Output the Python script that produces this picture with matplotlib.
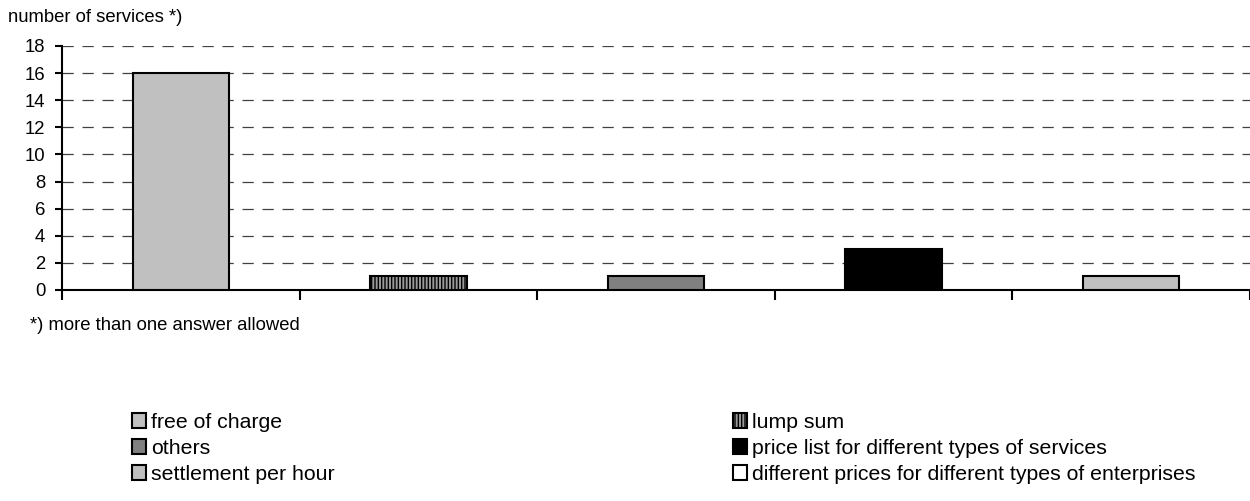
import numpy as np
import matplotlib
matplotlib.use("Agg")
from matplotlib import pyplot as plt
from matplotlib.patches import Patch

plt.rcParams['font.family'] = ['Liberation Sans', 'DejaVu Sans']
plt.rcParams['hatch.linewidth'] = 1.0

# data
bar_labels = ['free of charge', 'lump sum', 'others',
              'price list for different types of services', 'settlement per hour']
bar_values = [16, 1, 1, 3, 1]
bar_colors = ['#c0c0c0', '#9a9a9a', '#808080', '#000000', '#c0c0c0']
bar_hatch = ['', '|||||', '', '', '']

legend_left = ['free of charge', 'others', 'settlement per hour']
legend_left_col = ['#c0c0c0', '#808080', '#c0c0c0']
legend_right = ['lump sum', 'price list for different types of services',
                'different prices for different types of enterprises']
legend_right_col = ['#9a9a9a', '#000000', '#ffffff']
legend_right_hatch = ['|||||', '', '']

yticks = [0, 2, 4, 6, 8, 10, 12, 14, 16, 18]

fig = plt.figure(figsize=(12.5, 5.01), dpi=100)
ax = fig.add_axes([62/1250, 1-290/501, 1-62/1250, (290-46)/501])

x = np.arange(len(bar_values))
for i in range(len(bar_values)):
    ax.bar(x[i], bar_values[i], width=0.405, color=bar_colors[i],
           edgecolor='black', linewidth=1.5, hatch=bar_hatch[i], zorder=3)

ax.set_xlim(-0.5, 4.5)
ax.set_ylim(0, 18)
ax.set_yticks(yticks)
ax.set_xticks(np.arange(-0.5, 5, 1))
ax.set_xticklabels([])
for y in yticks[1:]:
    ax.axhline(y, color='#404040', linestyle=(0, (9, 7)), linewidth=0.9, zorder=1)

for s in ['top', 'right']:
    ax.spines[s].set_visible(False)
ax.spines['left'].set_linewidth(1.5)
ax.spines['bottom'].set_linewidth(1.5)
ax.tick_params(axis='y', direction='out', length=5, width=1.5, labelsize=13.3, pad=7)
ax.tick_params(axis='x', direction='out', length=7, width=1.5)

fig.text(8/1250, 1-18/501, 'number of services *)', fontsize=13.3, va='center')
fig.text(30/1250, 1-326/501, '*) more than one answer allowed', fontsize=13.3, va='center')

h1 = [Patch(facecolor=legend_left_col[i], edgecolor='black', linewidth=1.5)
      for i in range(3)]
h2 = [Patch(facecolor=legend_right_col[i], edgecolor='black', linewidth=1.5,
            hatch=legend_right_hatch[i]) for i in range(3)]
kw = dict(loc='upper left', frameon=False, fontsize=15.3, handlelength=0.65,
          handleheight=0.65, handletextpad=0.25, labelspacing=0.33,
          borderpad=0, borderaxespad=0)
fig.legend(h1, legend_left, bbox_to_anchor=(132/1250, 1-413/501), **kw)
fig.legend(h2, legend_right, bbox_to_anchor=(733/1250, 1-413/501), **kw)

fig.savefig('out.png', dpi=100)
